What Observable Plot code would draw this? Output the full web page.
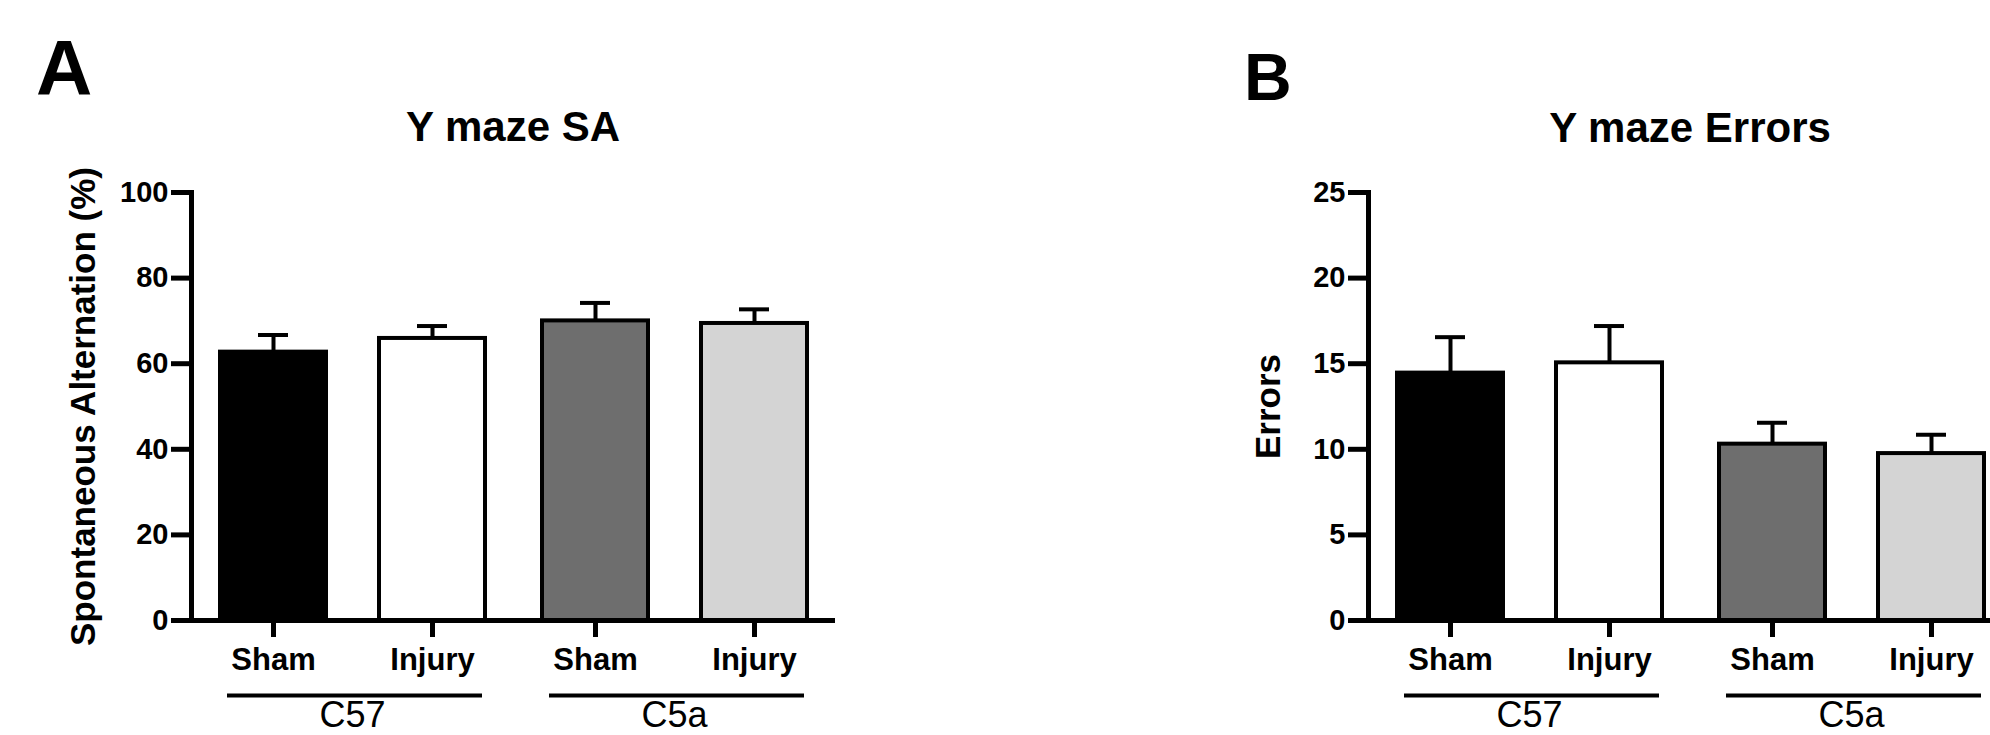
<!DOCTYPE html>
<html>
<head>
<meta charset="utf-8">
<script src="https://cdn.jsdelivr.net/npm/d3@7"></script>
<script src="https://cdn.jsdelivr.net/npm/@observablehq/plot@0.6"></script>
<style>
  html, body { margin: 0; padding: 0; background: #fff; }
  body { width: 1990px; height: 735px; overflow: hidden; position: relative;
         font-family: 'Liberation Sans', Arial, sans-serif; color: #000; }
  .abs { position: absolute; line-height: 1; white-space: nowrap; font-weight: bold; z-index: 2; }
  .panel { position: absolute; top: 0; width: 900px; height: 735px; z-index: 1; }
  .panel svg { max-width: none !important; }
</style>
</head>
<body>
<div id="panelA" class="panel" style="left:0px;"></div>
<div id="panelB" class="panel" style="left:1177px;"></div>
<div class="abs" style="left:36px; top:29px; font-size:78px;">A</div>
<div class="abs" style="left:1244px; top:44px; font-size:66px;">B</div>
<div class="abs" style="left:191px; width:644px; top:106px; font-size:42px; text-align:center;">Y maze SA</div>
<div class="abs" style="left:1368px; width:644px; top:107px; font-size:42px; text-align:center;">Y maze Errors</div>
<script>
// ---- data ----
const groups = ["C57", "C57", "C5a", "C5a"];
const conditions = ["Sham", "Injury", "Sham", "Injury"];
const groupOrder = ["C57", "C5a"];
const conditionOrder = ["Sham", "Injury"];

// Panel A: Y maze spontaneous alternation (%)
const saMean = [62.7, 65.9, 70.0, 69.4];
const saSem = [4.0, 2.9, 4.2, 3.3];
const saTicks = [0, 20, 40, 60, 80, 100];

// Panel B: Y maze errors
const errMean = [14.45, 15.05, 10.3, 9.75];
const errSem = [2.1, 2.15, 1.25, 1.1];
const errTicks = [0, 5, 10, 15, 20, 25];

const barKeys = ["C57 Sham", "C57 Injury", "C5a Sham", "C5a Injury"];
const barFills = ["#000000", "#ffffff", "#6e6e6e", "#d4d4d4"];

function rowsOf(means, sems) {
  return means.map((m, i) => ({
    group: groups[i],
    cond: conditions[i],
    key: groups[i] + " " + conditions[i],
    mean: m,
    upper: m + sems[i]
  }));
}

function panel(rows, yMax, yTicks, yLabel, labelDx) {
  return Plot.plot({
    width: 900,
    height: 735,
    marginLeft: 191,
    marginRight: 65,
    marginTop: 192,
    marginBottom: 115,
    style: {
      fontFamily: "'Liberation Sans', Arial, sans-serif",
      fontWeight: "bold",
      background: "transparent",
      color: "black",
      overflow: "visible",
      maxWidth: "none"
    },
    fx: {domain: groupOrder, padding: 0, label: null},
    x: {domain: conditionOrder, paddingInner: 1 / 3, paddingOuter: 0.173, label: null},
    y: {domain: [0, yMax], label: null},
    color: {domain: barKeys, range: barFills},
    marks: [
      Plot.barY(rows, {fx: "group", x: "cond", y: "mean", fill: "key", stroke: "black", strokeWidth: 4}),
      Plot.ruleX(rows, {fx: "group", x: "cond", y1: "mean", y2: "upper", stroke: "black", strokeWidth: 4}),
      Plot.tickY(rows, {fx: "group", x: "cond", y: "upper", stroke: "black", strokeWidth: 4, insetLeft: 38, insetRight: 38}),
      Plot.ruleY([0], {stroke: "black", strokeWidth: 5}),
      Plot.frame({anchor: "left", stroke: "black", strokeWidth: 5, facetAnchor: "left"}),
      Plot.axisY({ticks: yTicks, tickSize: 20, tickPadding: 3, strokeWidth: 5, fontSize: 29, label: null}),
      Plot.axisX({tickSize: 17, tickPadding: 10, strokeWidth: 5, fontSize: 31, label: null}),
      Plot.ruleY([0], {dy: 75, insetLeft: 36, insetRight: 31, stroke: "black", strokeWidth: 4}),
      Plot.axisFx({anchor: "bottom", tickSize: 0, tickPadding: 81, fontSize: 36, fontWeight: "normal", label: null}),
      Plot.text([yLabel], {text: d => d, frameAnchor: "left", rotate: -90, dx: labelDx, lineAnchor: "top",
        textAnchor: "middle", fontSize: 35, fontWeight: "bold", facetAnchor: "left"})
    ]
  });
}

document.getElementById("panelA").appendChild(
  panel(rowsOf(saMean, saSem), 100, saTicks, "Spontaneous Alternation (%)", -121));
document.getElementById("panelB").appendChild(
  panel(rowsOf(errMean, errSem), 25, errTicks, "Errors", -113));
</script>
</body>
</html>
